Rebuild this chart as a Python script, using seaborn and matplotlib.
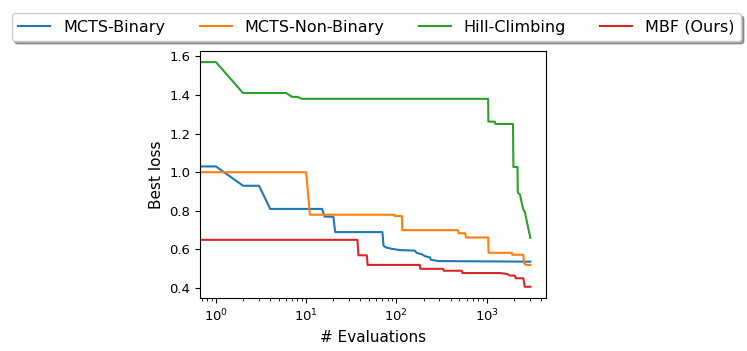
import matplotlib
matplotlib.use("Agg")
import matplotlib.pyplot as plt
import seaborn as sns
import pandas as pd

# vertices of each best-loss curve (evaluation index, best loss)
binary_x = [0, 1, 2, 3, 4, 15, 16, 20, 21, 70, 72, 77, 90, 110, 160, 168, 190, 208, 236, 240, 292, 3050]
binary_y = [1.03, 1.03, 0.93, 0.93, 0.81, 0.81, 0.77, 0.77, 0.69, 0.69, 0.62, 0.61, 0.603, 0.597, 0.594,
            0.582, 0.576, 0.565, 0.559, 0.547, 0.540, 0.537]

nonbin_x = [0, 10, 11, 95, 96, 115, 116, 480, 490, 580, 590, 1040, 1050, 1900, 1920, 2550, 2600, 2750, 3050]
nonbin_y = [1.0, 1.0, 0.78, 0.78, 0.773, 0.773, 0.70, 0.70, 0.684, 0.684, 0.662, 0.662, 0.583, 0.583,
            0.573, 0.573, 0.528, 0.52, 0.52]

hill_x = [0, 1, 2, 6, 7, 8, 9, 1040, 1045, 1230, 1250, 1960, 1980, 2200, 2215, 2345, 2400, 2550, 2660, 2780, 3050]
hill_y = [1.57, 1.57, 1.41, 1.41, 1.39, 1.39, 1.38, 1.38, 1.262, 1.262, 1.25, 1.25, 1.027, 1.027, 0.894,
          0.885, 0.859, 0.808, 0.792, 0.748, 0.66]

mbf_x = [0, 37, 38, 47, 48, 182, 184, 330, 335, 530, 540, 1400, 1700, 1800, 2050, 2100, 2550, 2650, 3050]
mbf_y = [0.65, 0.65, 0.57, 0.57, 0.52, 0.52, 0.50, 0.50, 0.49, 0.49, 0.478, 0.478, 0.473, 0.465, 0.465,
         0.451, 0.451, 0.407, 0.407]

labels = ['MCTS-Binary', 'MCTS-Non-Binary', 'Hill-Climbing', 'MBF (Ours)']
series = [(binary_x, binary_y), (nonbin_x, nonbin_y), (hill_x, hill_y), (mbf_x, mbf_y)]
colors = sns.color_palette('tab10', 4)

fig = plt.figure(figsize=(7.47, 3.51), dpi=100)
ax = fig.add_axes([0.268, 0.151, 0.463, 0.704])

for (xs, ys), lab, col in zip(series, labels, colors):
    df = pd.DataFrame({'x': xs, 'y': ys})
    sns.lineplot(data=df, x='x', y='y', ax=ax, color=col, label=lab,
                 estimator=None, sort=False, linewidth=1.5)

ax.set_xscale('log')
ax.relim()
ax.autoscale_view()
ax.set_xlabel('# Evaluations', fontsize=11)
ax.set_ylabel('Best loss', fontsize=11)
ax.tick_params(labelsize=9.5)

handles, labs = ax.get_legend_handles_labels()
if ax.get_legend() is not None:
    ax.get_legend().remove()
fig.legend(handles, labs, loc='lower left', mode='expand', ncol=4,
           bbox_to_anchor=(12 / 747, 1 - 41 / 351, 729 / 747, 30 / 351),
           fancybox=True, shadow=True, fontsize=11.5, borderaxespad=0)

fig.savefig('out.png', dpi=100)
